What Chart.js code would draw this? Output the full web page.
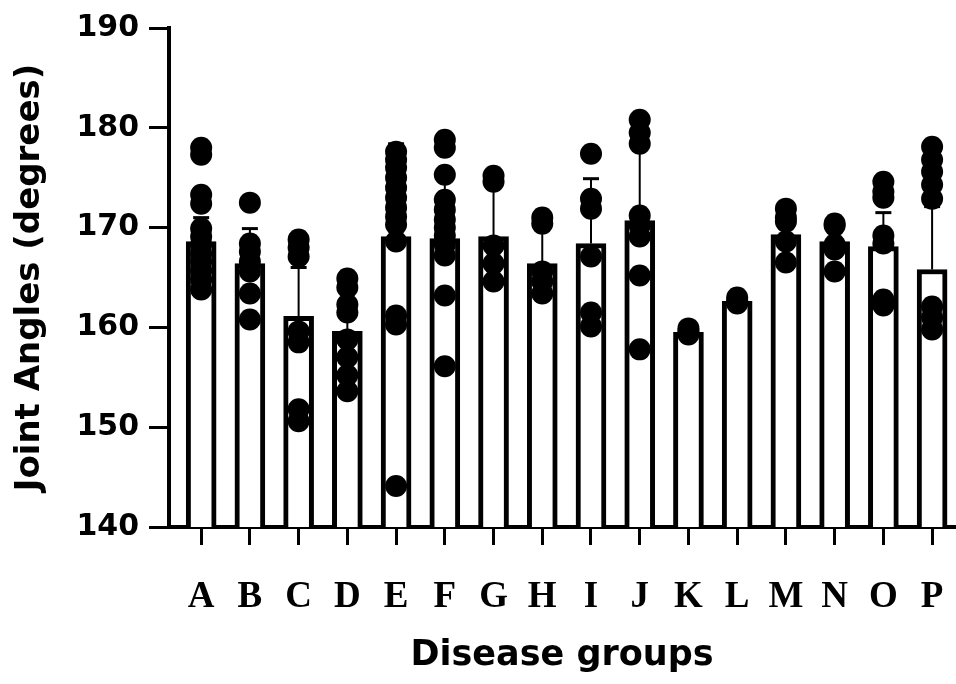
<!DOCTYPE html>
<html>
<head>
<meta charset="utf-8">
<title>Joint angles by disease group</title>
<script src="https://cdn.jsdelivr.net/npm/chart.js@4.4.1/dist/chart.umd.min.js"></script>
<style>
    html, body { margin: 0; padding: 0; background: #fff; overflow: hidden; }
    #wrap { position: relative; width: 956px; height: 684px; }
    #angleChart { display: block; }
</style>
</head>
<body>
<div id="wrap"><canvas id="angleChart"></canvas></div>
<script>
// groups on the x axis
const groups = ["A", "B", "C", "D", "E", "F", "G", "H", "I", "J", "K", "L", "M", "N", "O", "P"];

// bar heights (group means) and the upper error bar (SD)
const means = [168.6, 166.4, 161.1, 159.6, 169.1, 168.9, 169.1, 166.4, 168.4, 170.7, 159.5, 162.6, 169.3, 168.6, 168.1, 165.8];
const sdUp = [2.4, 3.5, 4.9, 2.9, 9.3, 6.3, 5.0, 3.6, 6.5, 7.1, 0.3, 0.4, 1.5, 1.4, 3.4, 6.3];

// individual patients, one list per group
const patientAngles = [
    [178.0, 177.3, 173.3, 172.4, 169.9, 169.1, 168.3, 167.4, 166.6, 165.7, 164.8, 163.8],
    [172.5, 168.4, 167.6, 166.6, 165.6, 163.4, 160.8],
    [168.8, 168.0, 167.1, 159.6, 158.5, 151.8, 150.6],
    [164.9, 164.0, 162.3, 161.5, 158.8, 157.0, 155.2, 153.6],
    [177.6, 176.8, 176.0, 175.0, 174.0, 173.0, 172.0, 171.1, 170.3, 168.6, 161.2, 160.3, 144.1],
    [178.8, 178.0, 175.3, 172.8, 171.8, 170.8, 170.0, 169.2, 168.3, 167.2, 163.2, 156.1],
    [175.2, 174.6, 168.2, 166.4, 164.6],
    [171.0, 170.4, 165.6, 164.6, 163.4],
    [177.4, 172.9, 171.9, 167.1, 161.5, 160.1],
    [180.8, 179.5, 178.4, 171.2, 170.2, 169.1, 165.2, 157.8],
    [159.9, 159.6, 159.3],
    [163.0, 162.7, 162.4],
    [171.9, 171.0, 170.6, 168.6, 166.5],
    [170.4, 170.2, 168.3, 167.8, 165.6],
    [174.6, 173.6, 173.0, 169.2, 168.4, 162.8, 162.2],
    [178.1, 176.8, 175.6, 174.3, 172.9, 162.1, 161.0, 159.8]
];

const yTicks = [140, 150, 160, 170, 180, 190];

// build the datasets
const barPoints = means.map((m, i) => ({ x: i, y: m }));
const dotPoints = [];
patientAngles.forEach((list, i) => {
    list.forEach(v => dotPoints.push({ x: i, y: v }));
});

// mean + SD whiskers, drawn right after the bars so the dots sit on top
const errorBars = {
    id: "errorBars",
    afterDatasetDraw(chart, args) {
        if (args.meta.type !== "bar") return;
        const ctx = chart.ctx;
        const xs = chart.scales.x;
        const ys = chart.scales.y;
        ctx.save();
        ctx.strokeStyle = "#000";
        means.forEach((m, i) => {
            const px = xs.getPixelForValue(i);
            const yBar = ys.getPixelForValue(m);
            const yTop = ys.getPixelForValue(m + sdUp[i]);
            ctx.lineWidth = 2;
            ctx.beginPath();
            ctx.moveTo(px, yBar);
            ctx.lineTo(px, yTop);
            ctx.stroke();
            ctx.lineWidth = 3;
            ctx.beginPath();
            ctx.moveTo(px - 8, yTop);
            ctx.lineTo(px + 8, yTop);
            ctx.stroke();
        });
        ctx.restore();
    }
};

const sansBold = { family: "'DejaVu Sans', sans-serif", weight: "bold" };

new Chart(document.getElementById("angleChart"), {
    type: "bar",
    data: {
        datasets: [
            {
                type: "scatter",
                data: dotPoints,
                backgroundColor: "#000",
                borderColor: "#000",
                borderWidth: 0,
                pointRadius: 11,
                order: 0
            },
            {
                type: "bar",
                data: barPoints,
                backgroundColor: "#fff",
                borderColor: "#000",
                borderWidth: 5,
                barThickness: 30,
                order: 1
            }
        ]
    },
    options: {
        responsive: true,
        maintainAspectRatio: false,
        animation: false,
        layout: { autoPadding: false, padding: { top: 28, right: 1, left: 0, bottom: 0 } },
        plugins: {
            legend: { display: false },
            tooltip: { enabled: false }
        },
        scales: {
            x: {
                type: "linear",
                offset: false,
                min: -0.66,
                max: 15.47,
                afterBuildTicks: s => { s.ticks = groups.map((g, i) => ({ value: i })); },
                afterFit: s => {
                    s.height = 157;
                    s.paddingLeft = 0;
                    s.paddingRight = 0;
                },
                grid: { offset: false, drawOnChartArea: false, drawTicks: true, tickLength: 18, tickWidth: 3, tickColor: "#000" },
                border: { display: true, color: "#000", width: 4 },
                ticks: {
                    callback: v => groups[v],
                    color: "#000",
                    font: { family: "'Liberation Serif', serif", weight: "bold", size: 37 },
                    padding: 30,
                    autoSkip: false,
                    maxRotation: 0
                },
                title: {
                    display: true,
                    text: "Disease groups",
                    color: "#000",
                    font: { ...sansBold, size: 35 },
                    padding: { top: 0, bottom: 7 }
                }
            },
            y: {
                min: 140,
                max: 190,
                afterBuildTicks: s => { s.ticks = yTicks.map(v => ({ value: v })); },
                afterFit: s => {
                    s.width = 169;
                    s.paddingTop = 0;
                    s.paddingBottom = 0;
                },
                grid: { drawOnChartArea: false, drawTicks: true, tickLength: 20, tickWidth: 3, tickColor: "#000" },
                border: { display: true, color: "#000", width: 4 },
                ticks: {
                    color: "#000",
                    font: { ...sansBold, size: 30 },
                    padding: 10
                },
                title: {
                    display: true,
                    text: "Joint Angles (degrees)",
                    color: "#000",
                    font: { ...sansBold, size: 34 },
                    padding: { top: 10, bottom: 0 }
                }
            }
        }
    },
    plugins: [errorBars]
});
</script>
</body>
</html>
